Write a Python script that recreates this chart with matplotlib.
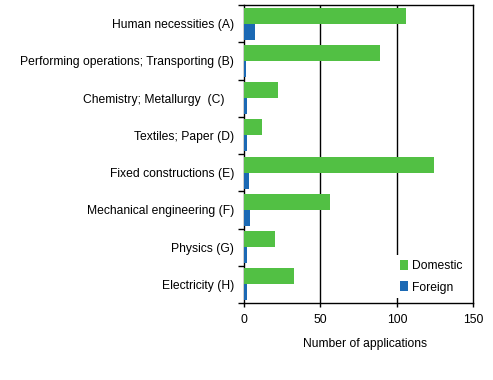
import matplotlib
matplotlib.use("Agg")
import matplotlib.pyplot as plt
import numpy as np

categories = ["Human necessities (A)", "Performing operations; Transporting (B)",
              "Chemistry; Metallurgy  (C)   ", "Textiles; Paper (D)",
              "Fixed constructions (E)", "Mechanical engineering (F)",
              "Physics (G)", "Electricity (H)"]
domestic = [106, 89, 22, 12, 124, 56, 20, 33]
foreign = [7, 1, 2, 2, 3, 4, 2, 2]
xticks = [0, 50, 100, 150]

plt.rcParams['font.family'] = ['Liberation Sans', 'DejaVu Sans']
fig = plt.figure(figsize=(4.93, 3.8), dpi=100)
ax = fig.add_axes([244/493, 1-303/380, (473.3-244)/493, (303-5)/380])

fs = 8.7
green = "#52C044"
blue = "#1B69B4"
y = np.arange(len(categories))
h = 0.435
ax.barh(y - 0.215, domestic, height=h, color=green, label="Domestic", zorder=3)
ax.barh(y + 0.215, foreign, height=h, color=blue, label="Foreign", zorder=3)

ax.set_xlim(0, 150)
ax.set_ylim(len(categories) - 0.5, -0.5)
ax.set_xticks(xticks)
ax.set_xticklabels([str(t) for t in xticks], fontsize=fs)
ax.set_yticks(y)
ax.set_yticklabels(categories, fontsize=fs)
ax.set_yticks(np.arange(-0.5, len(categories), 1.0), minor=True)
ax.tick_params(axis='y', which='major', length=0, pad=7)
ax.tick_params(axis='y', which='minor', length=4, width=1)
ax.tick_params(axis='x', which='major', length=3, width=1, pad=5)
for x in [50, 100]:
    ax.axvline(x, color='black', lw=1, zorder=1)
for s in ax.spines.values():
    s.set_linewidth(1)
ax.set_xlabel("Number of applications", fontsize=fs)
ax.xaxis.set_label_coords(0.53, -0.117)

leg = ax.legend(loc='lower right', bbox_to_anchor=(0.998, -0.005), frameon=True,
                fontsize=fs, handlelength=0.7, handleheight=0.9, handletextpad=0.3,
                borderaxespad=0.5, labelspacing=0.8, edgecolor='none', fancybox=False)
leg.get_frame().set_facecolor('white')
leg.get_frame().set_alpha(1)
leg.set_zorder(5)

fig.savefig("out.png", dpi=100)
